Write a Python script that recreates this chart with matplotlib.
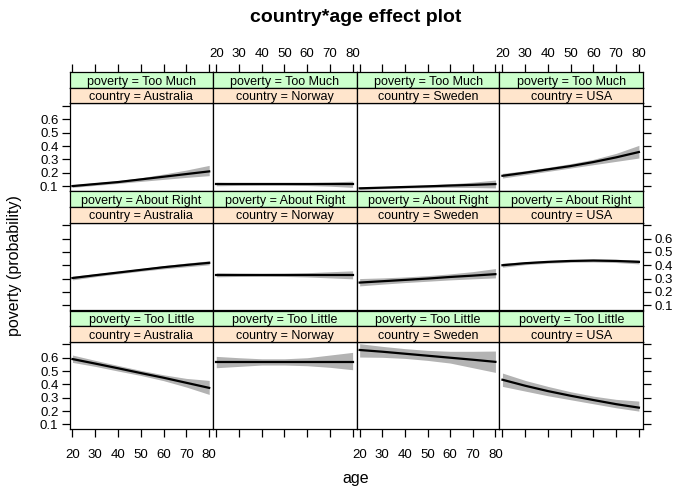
import matplotlib
matplotlib.use("Agg")
import matplotlib.pyplot as plt
from matplotlib.patches import Rectangle

plt.rcParams['font.family'] = ['Liberation Sans', 'DejaVu Sans']

# -----------------------------
# data
# -----------------------------
ages = [20, 30, 40, 50, 60, 70, 80]
countries = ["Australia", "Norway", "Sweden", "USA"]
levels = ["Too Much", "About Right", "Too Little"]

fit_too_much = [
    [0.100, 0.115, 0.130, 0.150, 0.170, 0.190, 0.210],
    [0.115, 0.115, 0.115, 0.115, 0.115, 0.115, 0.115],
    [0.083, 0.088, 0.093, 0.098, 0.104, 0.109, 0.115],
    [0.177, 0.200, 0.225, 0.250, 0.280, 0.315, 0.355],
]
lo_too_much = [
    [0.090, 0.105, 0.120, 0.135, 0.150, 0.165, 0.178],
    [0.102, 0.105, 0.106, 0.106, 0.104, 0.099, 0.090],
    [0.075, 0.080, 0.085, 0.088, 0.090, 0.089, 0.086],
    [0.160, 0.185, 0.210, 0.235, 0.260, 0.285, 0.310],
]
hi_too_much = [
    [0.110, 0.125, 0.140, 0.162, 0.190, 0.220, 0.255],
    [0.128, 0.125, 0.124, 0.124, 0.126, 0.130, 0.137],
    [0.092, 0.096, 0.101, 0.108, 0.117, 0.129, 0.145],
    [0.195, 0.215, 0.240, 0.268, 0.300, 0.345, 0.405],
]

fit_about_right = [
    [0.304, 0.325, 0.345, 0.365, 0.385, 0.402, 0.418],
    [0.328, 0.328, 0.328, 0.328, 0.328, 0.328, 0.328],
    [0.270, 0.280, 0.290, 0.300, 0.312, 0.322, 0.333],
    [0.400, 0.415, 0.425, 0.432, 0.435, 0.432, 0.425],
]
lo_about_right = [
    [0.290, 0.314, 0.335, 0.355, 0.373, 0.388, 0.403],
    [0.313, 0.316, 0.317, 0.316, 0.312, 0.305, 0.298],
    [0.245, 0.258, 0.270, 0.280, 0.290, 0.298, 0.305],
    [0.385, 0.404, 0.415, 0.422, 0.424, 0.420, 0.410],
]
hi_about_right = [
    [0.318, 0.336, 0.355, 0.375, 0.397, 0.416, 0.433],
    [0.343, 0.340, 0.339, 0.340, 0.344, 0.351, 0.358],
    [0.300, 0.305, 0.312, 0.322, 0.335, 0.352, 0.375],
    [0.415, 0.426, 0.435, 0.442, 0.446, 0.444, 0.440],
]

fit_too_little = [
    [0.590, 0.556, 0.521, 0.485, 0.450, 0.412, 0.374],
    [0.570, 0.570, 0.570, 0.570, 0.570, 0.570, 0.570],
    [0.658, 0.645, 0.630, 0.615, 0.600, 0.585, 0.569],
    [0.435, 0.390, 0.350, 0.315, 0.283, 0.252, 0.226],
]
lo_too_little = [
    [0.565, 0.535, 0.500, 0.467, 0.428, 0.380, 0.325],
    [0.525, 0.535, 0.545, 0.545, 0.540, 0.528, 0.510],
    [0.605, 0.603, 0.595, 0.580, 0.560, 0.525, 0.490],
    [0.385, 0.350, 0.315, 0.285, 0.255, 0.225, 0.200],
]
hi_too_little = [
    [0.620, 0.580, 0.542, 0.505, 0.472, 0.445, 0.430],
    [0.610, 0.600, 0.592, 0.592, 0.600, 0.620, 0.640],
    [0.705, 0.685, 0.668, 0.655, 0.648, 0.648, 0.650],
    [0.485, 0.430, 0.385, 0.345, 0.312, 0.288, 0.275],
]

fits = [fit_too_much, fit_about_right, fit_too_little]
lows = [lo_too_much, lo_about_right, lo_too_little]
highs = [hi_too_much, hi_about_right, hi_too_little]

x_ticks = [20, 30, 40, 50, 60, 70, 80]
y_ticks = [0.1, 0.2, 0.3, 0.4, 0.5, 0.6, 0.7]
y_labels = ["0.1", "0.2", "0.3", "0.4", "0.5", "0.6", ""]

# -----------------------------
# layout in pixels
# -----------------------------
W, H = 700, 500
col_x = [69.5, 213.3, 356.7, 499.5, 643.0]
row_top = [103.3, 222.5, 341.7]
panel_h = 87.7
strip_h = 15.5


def box(x0, y0, x1, y1):
    return [x0 / W, 1 - y1 / H, (x1 - x0) / W, (y1 - y0) / H]


fig = plt.figure(figsize=(7, 5), dpi=100)

tick_font = 9.5
strip_font = 9

for r in range(3):
    for c in range(4):
        x0, x1 = col_x[c], col_x[c + 1]
        top = row_top[r]
        ax = fig.add_axes(box(x0, top, x1, top + panel_h))
        ax.fill_between(ages, lows[r][c], highs[r][c], color='#B3B3B3', lw=0)
        ax.plot(ages, fits[r][c], color='black', lw=1.6)
        ax.set_xlim(18.7, 81.8)
        ax.set_ylim(0.063, 0.72)
        for s in ax.spines.values():
            s.set_linewidth(0.9)

        # y ticks: outer edges only, labels alternate left / right
        ax.set_yticks(y_ticks)
        ax.set_yticklabels(y_labels)
        left = (c == 0)
        right = (c == 3)
        ax.tick_params(axis='y', direction='out', length=6, width=0.9,
                       left=left, right=right,
                       labelleft=left and r != 1,
                       labelright=right and r == 1,
                       labelsize=tick_font, pad=2)

        # x ticks: bottom row below, top row drawn above strips
        ax.set_xticks(x_ticks)
        ax.tick_params(axis='x', direction='out', length=6, width=0.9,
                       bottom=(r == 2), top=False,
                       labelbottom=(r == 2 and c in (0, 2)),
                       labeltop=False, labelsize=tick_font, pad=8)

        # strips
        for k, (txt, col) in enumerate([
                ("poverty = " + levels[r], '#CCFFCC'),
                ("country = " + countries[c], '#FFE5CC')]):
            sy0 = top - 2 * strip_h + k * strip_h
            sax = fig.add_axes(box(x0, sy0, x1, sy0 + strip_h))
            sax.set_xlim(0, 1)
            sax.set_ylim(0, 1)
            sax.add_patch(Rectangle((0, 0), 1, 1, facecolor=col, edgecolor='none'))
            sax.text(0.5, 0.40, txt, ha='center', va='center', fontsize=strip_font)
            sax.set_xticks([])
            sax.set_yticks([])
            for s in sax.spines.values():
                s.set_linewidth(0.9)

        # top axis of the first row, above the strips
        if r == 0:
            tax = fig.add_axes(box(x0, top - 2 * strip_h, x1, top), frameon=False)
            tax.patch.set_visible(False)
            tax.set_xlim(18.7, 81.8)
            tax.set_xticks(x_ticks)
            tax.set_yticks([])
            tax.tick_params(axis='x', direction='out', length=6, width=0.9,
                            bottom=False, top=True, labelbottom=False,
                            labeltop=(c in (1, 3)), labelsize=tick_font, pad=3)

fig.text(356 / W, 1 - 18 / H, "country*age effect plot", ha='center', va='center',
         fontsize=14, fontweight='bold')
fig.text(356 / W, 1 - 479 / H, "age", ha='center', va='center', fontsize=11.5)
fig.text(15 / W, 1 - 266 / H, "poverty (probability)", ha='center', va='center',
         rotation=90, fontsize=11.5)

fig.savefig("out.png", dpi=100)
